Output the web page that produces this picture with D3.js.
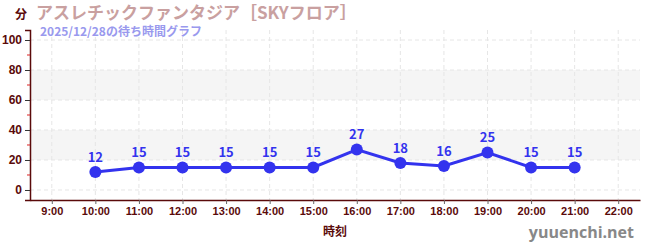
<!DOCTYPE html>
<html>
<head>
<meta charset="utf-8">
<script src="https://cdn.jsdelivr.net/npm/d3@7"></script>
<style>
  body { margin: 0; background: #fff; }
  svg { display: block; font-family: "Noto Sans CJK JP", "Noto Sans", sans-serif; }
</style>
</head>
<body>
<script>
// chart data
const hours = [9, 10, 11, 12, 13, 14, 15, 16, 17, 18, 19, 20, 21, 22];
const waitHours = [10, 11, 12, 13, 14, 15, 16, 17, 18, 19, 20, 21];
const waitMinutes = [12, 15, 15, 15, 15, 15, 27, 18, 16, 25, 15, 15];
const yTicks = [0, 20, 40, 60, 80, 100];
const yMinorTicks = [10, 30, 50, 70, 90];
const bands = [[20, 40], [60, 80]];

const title = "アスレチックファンタジア［SKYフロア］";
const subtitle = "2025/12/28の待ち時間グラフ";

const width = 650, height = 250;
const axisColor = "#5a0a0a";
const lineColor = "#3333ee";

const svg = d3.select("body").append("svg")
    .attr("width", width)
    .attr("height", height);

const x = d3.scaleLinear().domain([8.5, 22.5]).range([30, 640]);
const y = d3.scaleLinear().domain([-6.67, 106.67]).range([200, 30]);

// background bands
svg.append("g").selectAll("rect")
    .data(bands)
    .join("rect")
    .attr("x", x(8.5))
    .attr("width", x(22.5) - x(8.5))
    .attr("y", d => y(d[1]))
    .attr("height", d => y(d[0]) - y(d[1]))
    .attr("fill", "#f5f5f5");

// grid lines
const grid = svg.append("g")
    .attr("stroke", "#e6e6e6")
    .attr("stroke-dasharray", "4,3");
grid.selectAll("line.h")
    .data(yTicks)
    .join("line")
    .attr("class", "h")
    .attr("x1", x(8.5)).attr("x2", x(22.5))
    .attr("y1", d => y(d)).attr("y2", d => y(d));
grid.selectAll("line.v")
    .data(hours)
    .join("line")
    .attr("class", "v")
    .attr("x1", d => x(d)).attr("x2", d => x(d))
    .attr("y1", y(106.67)).attr("y2", y(-6.67));

// y axis
const yAxis = svg.append("g")
    .attr("transform", `translate(${x(8.5)},0)`)
    .call(d3.axisLeft(y).tickValues(yTicks).tickSize(5).tickPadding(3));
yAxis.select(".domain").attr("stroke", axisColor).attr("stroke-width", 1.5);
yAxis.selectAll(".tick line").attr("stroke", "#333");
yAxis.selectAll(".tick text")
    .attr("fill", axisColor)
    .attr("font-size", 12)
    .attr("font-weight", "bold");
svg.append("g").selectAll("line")
    .data(yMinorTicks)
    .join("line")
    .attr("x1", x(8.5) - 3).attr("x2", x(8.5))
    .attr("y1", d => y(d)).attr("y2", d => y(d))
    .attr("stroke", "#dd2222");

// x axis
const xAxis = svg.append("g")
    .attr("transform", `translate(0,${y(-6.67)})`)
    .call(d3.axisBottom(x).tickValues(hours).tickFormat(d => d + ":00").tickSize(4).tickSizeOuter(0).tickPadding(3));
xAxis.select(".domain").attr("stroke", axisColor).attr("stroke-width", 1.5);
xAxis.selectAll(".tick line").attr("stroke", "#666");
xAxis.selectAll(".tick text")
    .attr("fill", axisColor)
    .attr("font-size", 11)
    .attr("font-weight", "bold");

// line + points
const pts = waitHours.map((h, i) => ({ h, v: waitMinutes[i] }));
svg.append("path")
    .datum(pts)
    .attr("fill", "none")
    .attr("stroke", lineColor)
    .attr("stroke-width", 3)
    .attr("d", d3.line().x(d => x(d.h)).y(d => y(d.v)));
svg.append("g").selectAll("circle")
    .data(pts)
    .join("circle")
    .attr("cx", d => x(d.h))
    .attr("cy", d => y(d.v))
    .attr("r", 6)
    .attr("fill", lineColor);
svg.append("g").selectAll("text")
    .data(pts)
    .join("text")
    .attr("x", d => x(d.h))
    .attr("y", d => y(d.v) - 10)
    .attr("text-anchor", "middle")
    .attr("font-size", 13)
    .attr("font-weight", "bold")
    .attr("fill", lineColor)
    .text(d => d.v);

// titles
svg.append("text")
    .attr("x", 15).attr("y", 19)
    .attr("font-size", 12).attr("font-weight", "bold")
    .attr("fill", axisColor)
    .text("分");
svg.append("text")
    .attr("x", 36).attr("y", 19)
    .attr("font-size", 17).attr("font-weight", "bold")
    .attr("fill", "#c9a0a0")
    .text(title);
svg.append("text")
    .attr("x", 40).attr("y", 36)
    .attr("font-size", 12).attr("font-weight", "bold")
    .attr("fill", "#9999ee")
    .text(subtitle);
svg.append("text")
    .attr("x", (x(8.5) + x(22.5)) / 2).attr("y", 236)
    .attr("text-anchor", "middle")
    .attr("font-size", 12).attr("font-weight", "bold")
    .attr("fill", axisColor)
    .text("時刻");
svg.append("text")
    .attr("x", 634).attr("y", 238)
    .attr("text-anchor", "end")
    .attr("font-size", 16).attr("font-weight", "bold")
    .attr("fill", "#888")
    .attr("font-family", "'Open Sans', 'DejaVu Sans', sans-serif")
    .text("yuuenchi.net");
</script>
</body>
</html>
